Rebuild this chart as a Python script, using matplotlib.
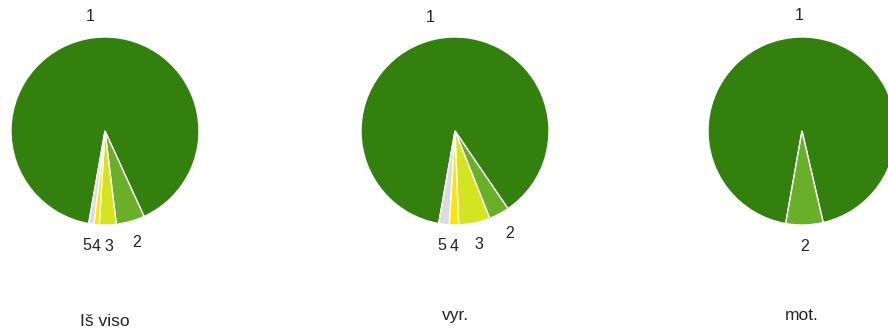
import matplotlib
matplotlib.use("Agg")
from matplotlib import pyplot as plt

plt.rcParams['font.family'] = ['Liberation Sans', 'DejaVu Sans']

# vertinimai 1..5, dalys procentais
kategorijos = ["1", "2", "3", "4", "5"]
is_viso = [90.4, 4.9, 2.9, 0.9, 0.9]
vyr = [87.7, 3.5, 5.4, 1.6, 1.8]
mot = [93.6, 6.4]

pavadinimai = ["Iš viso", "vyr.", "mot."]
spalvos = ["#33800f", "#6aaf2a", "#d3e421", "#ffe400", "#dcdcdc"]

W, H = 888, 329
fig = plt.figure(figsize=(W / 100, H / 100), dpi=100)
ax = fig.add_axes([0, 0, 1, 1])

centrai = [(105, H - 131), (455, H - 131), (802, H - 131)]
spindulys = 94
pavad_y = [H - 326, H - 320, H - 320]

for reiksmes, centras, pav, py in zip([is_viso, vyr, mot], centrai, pavadinimai, pavad_y):
    n = len(reiksmes)
    wedges, texts = ax.pie(
        reiksmes,
        labels=kategorijos[:n],
        colors=spalvos[:n],
        center=centras,
        radius=spindulys,
        startangle=260,
        counterclock=False,
        labeldistance=1.23,
        wedgeprops=dict(edgecolor="white", linewidth=1),
        textprops=dict(fontsize=11.5, color="#222222"),
        frame=True,
    )
    for t in texts:
        t.set_ha('center')
        t.set_va('center')
    # maži gretimi sektoriai: etiketes šiek tiek praskiriam
    if n == 5:
        x4, y4 = texts[3].get_position()
        x5, y5 = texts[4].get_position()
        if abs(x4 - x5) < 9:
            texts[3].set_position((x4 + 1.5, y4))
            texts[4].set_position((x5 - 1.5, y5))
    ax.text(centras[0], py, pav, ha='center', va='baseline',
            fontsize=12.5, color="#222222")

ax.set_xlim(0, W)
ax.set_ylim(0, H)
ax.set_aspect('equal')
ax.axis('off')

fig.savefig("out.png", dpi=100)
